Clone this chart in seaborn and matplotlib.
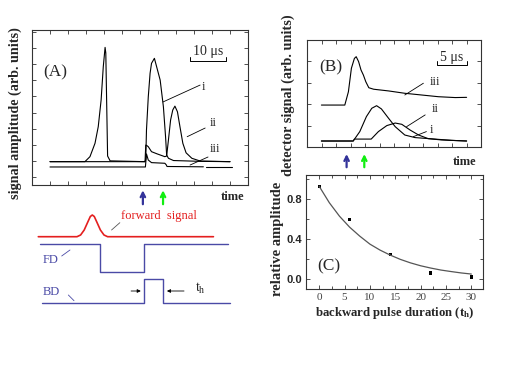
import numpy as np
import matplotlib
matplotlib.use("Agg")
import matplotlib.pyplot as plt
import seaborn as sns
import pandas as pd

sns.set_style("ticks")
plt.rcParams['font.family'] = ['Liberation Serif', 'DejaVu Serif']
plt.rcParams['mathtext.fontset'] = 'custom'
plt.rcParams['mathtext.rm'] = 'Liberation Serif'
plt.rcParams['mathtext.it'] = 'Liberation Serif'
plt.rcParams['mathtext.bf'] = 'Liberation Serif:bold'

# ---------------- data ----------------
# Panel A traces (time in microseconds, arbitrary amplitude)
A_t_i = [5, 14.7, 16.1, 17.5, 18.4, 19.2, 19.8, 20.3, 20.5, 20.75, 21.0, 21.7,
         31.4, 31.6, 31.8, 32.3, 32.8, 33.2, 34.0, 35.6, 36.5, 37.1, 37.4, 37.9, 39.3, 46.7, 55]
A_y_i = [1.45, 1.45, 1.76, 2.59, 3.62, 5.28, 7.35, 8.55, 8.2, 5.0, 1.8, 1.5,
         1.45, 1.6, 3.42, 5.48, 6.94, 7.56, 7.87, 6.52, 4.86, 3.0, 1.86, 1.66, 1.52, 1.47, 1.45]
A_t_ii = [5, 31.4, 31.6, 31.9, 32.3, 33.2, 34.8, 36.9, 37.4, 37.9, 38.5, 39.1, 39.7,
          40.4, 41.1, 41.9, 42.8, 44.4, 46.7, 55]
A_y_ii = [1.45, 1.45, 2.48, 2.45, 2.38, 2.07, 1.93, 1.76, 1.8, 2.8, 4.04, 4.66, 4.9,
          4.55, 3.62, 2.59, 2.0, 1.66, 1.49, 1.45]
A_t_iii = [5, 31.5, 31.8, 32.3, 33.2, 36.9, 37.3, 37.5, 47.6]
A_y_iii = [1.12, 1.12, 1.93, 1.55, 1.39, 1.35, 1.25, 1.15, 1.13]
A_t_iii_tail = [48.3, 55.5]
A_y_iii_tail = [1.10, 1.10]

# Schematic pulses
fwd_t = [1.75, 12.5, 13.5, 14.5, 15.5, 16.2, 16.75, 17.3, 18.0, 19.0, 20.0, 21.0, 50.4]
fwd_y = [8.33, 8.33, 8.5, 9.0, 9.8, 10.35, 10.5, 10.35, 9.8, 9.0, 8.5, 8.33, 8.33]
FD_t = [2.2, 18.9, 18.9, 31.2, 31.2, 54.5]
FD_y = [7.57, 7.57, 4.83, 4.83, 7.57, 7.57]
BD_t = [2.7, 31.2, 31.2, 36.5, 36.5, 55]
BD_y = [1.67, 1.67, 4.13, 4.13, 1.67, 1.67]

# Panel B traces
B_t_iii = [2.4, 6.3, 6.9, 7.4, 7.9, 8.2, 8.6, 9.0, 9.4, 9.8, 10.3, 11.1, 13.6, 16.3, 19.1, 21.9, 24.7, 26.6]
B_y_iii = [1.96, 1.96, 2.58, 3.68, 4.14, 4.22, 3.99, 3.6, 3.36, 3.05, 2.77, 2.7, 2.62, 2.51, 2.43, 2.35, 2.31, 2.32]
B_t_ii = [2.4, 7.7, 8.8, 9.9, 10.8, 11.6, 12.4, 13.6, 14.7, 16.3, 18.0, 21.3, 24.1, 26.6]
B_y_ii = [0.28, 0.28, 0.72, 1.42, 1.81, 1.93, 1.78, 1.34, 0.95, 0.56, 0.44, 0.37, 0.31, 0.28]
B_t_i = [2.4, 7.7, 7.9, 10.7, 11.9, 13.3, 14.7, 15.8, 17.2, 18.6, 20.2, 22.4, 26.6]
B_y_i = [0.28, 0.28, 0.37, 0.37, 0.72, 1.0, 1.12, 1.06, 0.79, 0.56, 0.39, 0.33, 0.28]

# Panel C
C_th = [0, 6, 14, 22, 30]
C_amp = [0.93, 0.60, 0.25, 0.06, 0.02]
C_fit_t = [0, 2, 4, 6, 8, 10, 12, 14, 16, 18, 20, 22, 24, 26, 28, 30]
C_fit_y = [0.93, 0.765, 0.63, 0.52, 0.43, 0.35, 0.29, 0.24, 0.197, 0.162, 0.133, 0.11, 0.09, 0.075, 0.061, 0.05]

# ---------------- figure ----------------
W, H = 518, 388
fig = plt.figure(figsize=(W / 100, H / 100), dpi=100)

def box(x0, y0, x1, y1):
    return [x0 / W, 1 - y1 / H, (x1 - x0) / W, (y1 - y0) / H]

line_kw = dict(color='black', linewidth=0.8, estimator=None, sort=False, legend=False)
dark = '#333333'
blue = '#33339a'
pblue = '#4a4aa6'
green = '#11ee11'
red = '#e41f1f'

def style_ax(ax):
    for s in ax.spines.values():
        s.set_visible(True)
        s.set_linewidth(0.8)
        s.set_color(dark)
    ax.tick_params(which='both', direction='in', top=True, right=True,
                   length=3, width=0.6, color=dark)

# ---- Panel A ----
axA = fig.add_axes(box(32, 30, 248, 185))
sns.lineplot(x=A_t_i, y=A_y_i, ax=axA, **line_kw)
sns.lineplot(x=A_t_ii, y=A_y_ii, ax=axA, **line_kw)
sns.lineplot(x=A_t_iii, y=A_y_iii, ax=axA, **line_kw)
sns.lineplot(x=A_t_iii_tail, y=A_y_iii_tail, ax=axA, **line_kw)
axA.set_xlim(0, 60)
axA.set_ylim(0, 9.63)
axA.set_xticks(np.arange(0, 61, 5))
axA.set_yticks(np.arange(0.5, 9.6, 1.0))
axA.set_xticklabels([])
axA.set_yticklabels([])
style_ax(axA)
axA.text(6.4, 7.0, '(A)', fontsize=12.5, ha='center', va='center')
axA.plot([43.9, 43.9, 53.9, 53.9], [7.95, 7.7, 7.7, 7.95], color='black', lw=0.7)
axA.text(48.9, 8.3, '10 μs', fontsize=10, ha='center', va='center')
for (x0, y0, x1, y1, lab, tx, ty) in [(36.4, 5.16, 46.7, 6.21, 'i', 47.5, 6.1),
                                      (43.1, 3.0, 48.1, 3.54, 'ii', 50.3, 3.85),
                                      (43.9, 1.24, 48.9, 1.74, 'iii', 50.8, 2.24)]:
    axA.plot([x0, x1], [y0, y1], color='black', lw=0.6)
    axA.text(tx, ty, lab, fontsize=9, ha='center', va='center')
fig.text(15 / W, 1 - 113.5 / H, 'signal amplitude (arb. units)', rotation=90,
         fontsize=10.2, fontweight='bold', ha='center', va='center')

# ---- Schematic below A ----
axS = fig.add_axes(box(32, 185, 248, 325))
axS.set_xlim(0, 60)
axS.set_ylim(-0.5, 13.5)
axS.axis('off')
sns.lineplot(x=fwd_t, y=fwd_y, ax=axS, color=red, linewidth=1.2, estimator=None, sort=False)
sns.lineplot(x=FD_t, y=FD_y, ax=axS, color=pblue, linewidth=1.0, estimator=None, sort=False)
sns.lineplot(x=BD_t, y=BD_y, ax=axS, color=pblue, linewidth=1.0, estimator=None, sort=False)
axS.text(24.6, 10.4, 'forward  signal', color=red, fontsize=9, ha='left', va='center')
axS.plot([22.1, 24.4], [9.0, 9.73], color='#555555', lw=0.6)
axS.text(3.0, 6.0, 'FD', color=pblue, fontsize=9, ha='left', va='center')
axS.plot([8.25, 10.55], [6.4, 7.0], color=pblue, lw=0.6)
axS.text(3.0, 2.83, 'BD', color=pblue, fontsize=9, ha='left', va='center')
axS.plot([10.1, 11.67], [2.5, 1.93], color=pblue, lw=0.6)
axS.annotate('', xy=(31.0, 2.9), xytext=(26.75, 2.9),
             arrowprops=dict(arrowstyle='-|>', lw=0.6, color='black', mutation_scale=5))
axS.annotate('', xy=(36.7, 2.9), xytext=(43.0, 2.9),
             arrowprops=dict(arrowstyle='-|>', lw=0.6, color='black', mutation_scale=5))
axS.text(45.3, 3.2, r'$\mathrm{t_h}$', fontsize=10, ha='left', va='center')
for x, c in [(30.8, blue), (36.4, green)]:
    axS.annotate('', xy=(x, 13.25), xytext=(x, 11.3),
                 arrowprops=dict(arrowstyle='->', lw=1.6, color=c, mutation_scale=8))
axS.text(55.7, 12.3, 'time', fontsize=9, fontweight='bold', ha='center', va='center')

# ---- Panel B ----
axB = fig.add_axes(box(307, 40, 481, 147))
sns.lineplot(x=B_t_iii, y=B_y_iii, ax=axB, **line_kw)
sns.lineplot(x=B_t_ii, y=B_y_ii, ax=axB, **line_kw)
sns.lineplot(x=B_t_i, y=B_y_i, ax=axB, **line_kw)
axB.set_xlim(0, 29)
axB.set_ylim(0, 5)
axB.set_xticks(np.linspace(0, 29, 13))
axB.set_yticks(np.arange(0, 5.1, 1))
axB.set_xticklabels([])
axB.set_yticklabels([])
style_ax(axB)
axB.text(3.95, 3.72, '(B)', fontsize=12.5, ha='center', va='center')
axB.plot([21.6, 21.6, 26.6, 26.6], [4.02, 3.83, 3.83, 4.02], color='black', lw=0.7)
axB.text(24.1, 4.17, '5 μs', fontsize=10, ha='center', va='center')
for (x0, y0, x1, y1, lab, tx, ty) in [(16.3, 2.43, 19.4, 2.98, 'iii', 21.3, 3.05),
                                      (16.6, 0.95, 19.7, 1.5, 'ii', 21.3, 1.78),
                                      (17.7, 0.48, 19.9, 0.72, 'i', 20.8, 0.79)]:
    axB.plot([x0, x1], [y0, y1], color='black', lw=0.6)
    axB.text(tx, ty, lab, fontsize=9, ha='center', va='center')
for x, c in [(6.6, blue), (9.55, green)]:
    axB.annotate('', xy=(x, -0.04), xytext=(x, -0.215),
                 xycoords=('data', 'axes fraction'), textcoords=('data', 'axes fraction'),
                 arrowprops=dict(arrowstyle='->', lw=1.6, color=c, mutation_scale=8),
                 annotation_clip=False)
axB.text(26.2, -0.137, 'time', transform=axB.get_xaxis_transform(), fontsize=9,
         fontweight='bold', ha='center', va='center')
fig.text(288 / W, 1 - 95 / H, 'detector signal (arb. units)', rotation=90,
         fontsize=10.3, fontweight='bold', ha='center', va='center')

# ---- Panel C ----
axC = fig.add_axes(box(306, 175, 483, 289))
sns.lineplot(x=C_fit_t, y=C_fit_y, ax=axC, color='#555555', linewidth=0.9,
             estimator=None, sort=False)
sns.scatterplot(x=C_th, y=C_amp, ax=axC, marker='s', s=5, color='black', edgecolor='none')
axC.set_xlim(-2.6, 32.3)
axC.set_ylim(-0.1, 1.043)
axC.set_xticks(np.arange(0, 31, 5))
axC.set_xticks(np.arange(0, 31, 2.5), minor=True)
axC.set_yticks([0.0, 0.4, 0.8])
axC.set_yticks(np.arange(0, 1.01, 0.2), minor=True)
axC.set_yticklabels(['0.0', '0.4', '0.8'], fontfamily='Liberation Sans',
                    fontweight='bold', fontsize=8)
axC.set_xticklabels([str(v) for v in range(0, 31, 5)], fontsize=8, color='#444444')
style_ax(axC)
axC.tick_params(which='minor', length=2)
axC.tick_params(axis='x', pad=3)
axC.tick_params(axis='y', pad=3)
axC.text(1.9, 0.13, '(C)', fontsize=12.5, ha='center', va='center')
axC.set_xlabel(r'backward pulse duration (t$_\mathregular{h}$)', fontsize=9.2,
               fontweight='bold', labelpad=2)
fig.text(278 / W, 1 - 239 / H, 'relative amplitude', rotation=90,
         fontsize=10.5, fontweight='bold', ha='center', va='center')

fig.savefig('out.png', dpi=100)
